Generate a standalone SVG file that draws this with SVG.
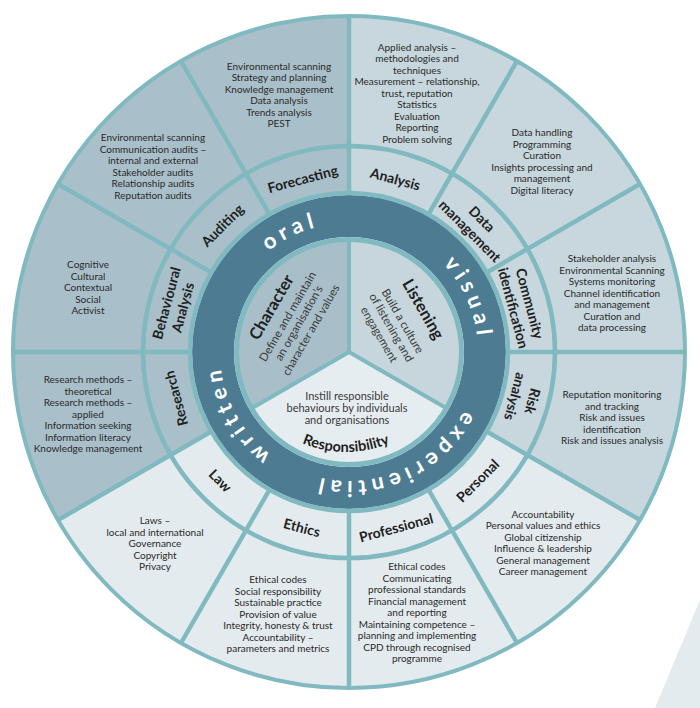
<svg xmlns="http://www.w3.org/2000/svg" xmlns:xlink="http://www.w3.org/1999/xlink" width="700" height="708" viewBox="0 0 700 708">
<defs>
<style>
.sa{fill:#a9bfc9}.sb{fill:#c7d7dd}.sc{fill:#e4ebee}
.ln{fill:none;stroke:#80b9c0;stroke-width:4.5}
.lbl{font-family:Lato,"Liberation Sans",sans-serif;font-weight:700;font-size:14px;fill:#1f1f1f;text-anchor:middle}
.d{font-family:Lato,"Liberation Sans",sans-serif;font-size:10px;fill:#2a2a2a;text-anchor:middle}
.ring{font-family:Lato,"Liberation Sans",sans-serif;font-weight:700;font-size:22px;fill:#ffffff;letter-spacing:5px;text-anchor:middle}
.ttl{font-family:Lato,"Liberation Sans",sans-serif;font-weight:700;font-size:16.5px;fill:#1f1f1f;text-anchor:middle}
.ds{font-family:Lato,"Liberation Sans",sans-serif;font-size:11.5px;fill:#3a3a3a;text-anchor:middle}
</style>
<path id="ringPath" d="M 349,223 A 129 129 0 1 1 349,481 A 129 129 0 1 1 349,223"/>
<path id="respPath" d="M 264.7,418.3 A 115 115 0 0 0 427.3,418.3"/>
</defs>
<polygon points="700,600 655,708 700,708" fill="#e4ebee"/>

<g id="analysis">
<path class="sb" d="M 349,146 A 206 206 0 0 1 452,173.6 L 427.5,216 A 157 157 0 0 0 349,195 Z"/>
<g transform="translate(349,352) rotate(15)"><text class="lbl" x="0" y="-174">Analysis</text></g>
</g>
<g id="analysis-topics">
<path class="sb" d="M 349,16 A 336 336 0 0 1 517,61 L 452,173.6 A 206 206 0 0 0 349,146 Z"/>
<text class="d"><tspan x="417" y="50.5">Applied analysis –</tspan><tspan x="417" dy="11.5">methodologies and</tspan><tspan x="417" dy="11.5">techniques</tspan><tspan x="417" dy="11.5">Measurement – relationship,</tspan><tspan x="417" dy="11.5">trust, reputation</tspan><tspan x="417" dy="11.5">Statistics</tspan><tspan x="417" dy="11.5">Evaluation</tspan><tspan x="417" dy="11.5">Reporting</tspan><tspan x="417" dy="11.5">Problem solving</tspan></text>
</g>

<g id="data-management">
<path class="sb" d="M 452,173.6 A 206 206 0 0 1 527.4,249 L 485,273.5 A 157 157 0 0 0 427.5,216 Z"/>
<g transform="translate(349,352) rotate(45)"><text class="lbl"><tspan x="0" y="-183">Data</tspan><tspan x="0" y="-166">management</tspan></text></g>
</g>
<g id="data-management-topics">
<path class="sb" d="M 517,61 A 336 336 0 0 1 640,184 L 527.4,249 A 206 206 0 0 0 452,173.6 Z"/>
<text class="d"><tspan x="542" y="136">Data handling</tspan><tspan x="542" dy="11.5">Programming</tspan><tspan x="542" dy="11.5">Curation</tspan><tspan x="542" dy="11.5">Insights processing and</tspan><tspan x="542" dy="11.5">management</tspan><tspan x="542" dy="11.5">Digital literacy</tspan></text>
</g>

<g id="community-identification">
<path class="sb" d="M 527.4,249 A 206 206 0 0 1 555,352 L 506,352 A 157 157 0 0 0 485,273.5 Z"/>
<g transform="translate(349,352) rotate(75)"><text class="lbl"><tspan x="0" y="-182">Community</tspan><tspan x="0" y="-165">identification</tspan></text></g>
</g>
<g id="community-identification-topics">
<path class="sb" d="M 640,184 A 336 336 0 0 1 685,352 L 555,352 A 206 206 0 0 0 527.4,249 Z"/>
<text class="d"><tspan x="612" y="262">Stakeholder analysis</tspan><tspan x="612" dy="11.5">Environmental Scanning</tspan><tspan x="612" dy="11.5">Systems monitoring</tspan><tspan x="612" dy="11.5">Channel identification</tspan><tspan x="612" dy="11.5">and management</tspan><tspan x="612" dy="11.5">Curation and</tspan><tspan x="612" dy="11.5">data processing</tspan></text>
</g>

<g id="risk-analysis">
<path class="sb" d="M 555,352 A 206 206 0 0 1 527.4,455 L 485,430.5 A 157 157 0 0 0 506,352 Z"/>
<g transform="translate(349,352) rotate(105)"><text class="lbl"><tspan x="0" y="-185">Risk</tspan><tspan x="0" y="-167">analysis</tspan></text></g>
</g>
<g id="risk-analysis-topics">
<path class="sb" d="M 685,352 A 336 336 0 0 1 640,520 L 527.4,455 A 206 206 0 0 0 555,352 Z"/>
<text class="d"><tspan x="612" y="398">Reputation monitoring</tspan><tspan x="612" dy="11.5">and tracking</tspan><tspan x="612" dy="11.5">Risk and issues</tspan><tspan x="612" dy="11.5">identification</tspan><tspan x="612" dy="11.5">Risk and issues analysis</tspan></text>
</g>

<g id="personal">
<path class="sc" d="M 527.4,455 A 206 206 0 0 1 452,530.4 L 427.5,488 A 157 157 0 0 0 485,430.5 Z"/>
<g transform="translate(349,352) rotate(-45)"><text class="lbl" x="0" y="187">Personal</text></g>
</g>
<g id="personal-topics">
<path class="sc" d="M 640,520 A 336 336 0 0 1 517,643 L 452,530.4 A 206 206 0 0 0 527.4,455 Z"/>
<text class="d"><tspan x="543" y="517.5">Accountability</tspan><tspan x="543" dy="11.5">Personal values and ethics</tspan><tspan x="543" dy="11.5">Global citizenship</tspan><tspan x="543" dy="11.5">Influence &amp; leadership</tspan><tspan x="543" dy="11.5">General management</tspan><tspan x="543" dy="11.5">Career management</tspan></text>
</g>

<g id="professional">
<path class="sc" d="M 452,530.4 A 206 206 0 0 1 349,558 L 349,509 A 157 157 0 0 0 427.5,488 Z"/>
<g transform="translate(349,352) rotate(-15)"><text class="lbl" x="0" y="187">Professional</text></g>
</g>
<g id="professional-topics">
<path class="sc" d="M 517,643 A 336 336 0 0 1 349,688 L 349,558 A 206 206 0 0 0 452,530.4 Z"/>
<text class="d"><tspan x="417" y="570">Ethical codes</tspan><tspan x="417" dy="11.5">Communicating</tspan><tspan x="417" dy="11.5">professional standards</tspan><tspan x="417" dy="11.5">Financial management</tspan><tspan x="417" dy="11.5">and reporting</tspan><tspan x="417" dy="11.5">Maintaining competence –</tspan><tspan x="417" dy="11.5">planning and implementing</tspan><tspan x="417" dy="11.5">CPD through recognised</tspan><tspan x="417" dy="11.5">programme</tspan></text>
</g>

<g id="ethics">
<path class="sc" d="M 349,558 A 206 206 0 0 1 246,530.4 L 270.5,488 A 157 157 0 0 0 349,509 Z"/>
<g transform="translate(349,352) rotate(15)"><text class="lbl" x="0" y="187">Ethics</text></g>
</g>
<g id="ethics-topics">
<path class="sc" d="M 349,688 A 336 336 0 0 1 181,643 L 246,530.4 A 206 206 0 0 0 349,558 Z"/>
<text class="d"><tspan x="278" y="583">Ethical codes</tspan><tspan x="278" dy="11.5">Social responsibility</tspan><tspan x="278" dy="11.5">Sustainable practice</tspan><tspan x="278" dy="11.5">Provision of value</tspan><tspan x="278" dy="11.5">Integrity, honesty &amp; trust</tspan><tspan x="278" dy="11.5">Accountability –</tspan><tspan x="278" dy="11.5">parameters and metrics</tspan></text>
</g>

<g id="law">
<path class="sc" d="M 246,530.4 A 206 206 0 0 1 170.6,455 L 213,430.5 A 157 157 0 0 0 270.5,488 Z"/>
<g transform="translate(349,352) rotate(45)"><text class="lbl" x="0" y="187">Law</text></g>
</g>
<g id="law-topics">
<path class="sc" d="M 181,643 A 336 336 0 0 1 58,520 L 170.6,455 A 206 206 0 0 0 246,530.4 Z"/>
<text class="d"><tspan x="155" y="524">Laws –</tspan><tspan x="155" dy="11.5">local and international</tspan><tspan x="155" dy="11.5">Governance</tspan><tspan x="155" dy="11.5">Copyright</tspan><tspan x="155" dy="11.5">Privacy</tspan></text>
</g>

<g id="research">
<path class="sa" d="M 170.6,455 A 206 206 0 0 1 143,352 L 192,352 A 157 157 0 0 0 213,430.5 Z"/>
<g transform="translate(349,352) rotate(-105)"><text class="lbl" x="0" y="-174">Research</text></g>
</g>
<g id="research-topics">
<path class="sa" d="M 58,520 A 336 336 0 0 1 13,352 L 143,352 A 206 206 0 0 0 170.6,455 Z"/>
<text class="d"><tspan x="88" y="383">Research methods –</tspan><tspan x="88" dy="11.5">theoretical</tspan><tspan x="88" dy="11.5">Research methods –</tspan><tspan x="88" dy="11.5">applied</tspan><tspan x="88" dy="11.5">Information seeking</tspan><tspan x="88" dy="11.5">Information literacy</tspan><tspan x="88" dy="11.5">Knowledge management</tspan></text>
</g>

<g id="behavioural-analysis">
<path class="sa" d="M 143,352 A 206 206 0 0 1 170.6,249 L 213,273.5 A 157 157 0 0 0 192,352 Z"/>
<g transform="translate(349,352) rotate(-75)"><text class="lbl"><tspan x="0" y="-184">Behavioural</tspan><tspan x="0" y="-167">Analysis</tspan></text></g>
</g>
<g id="behavioural-analysis-topics">
<path class="sa" d="M 13,352 A 336 336 0 0 1 58,184 L 170.6,249 A 206 206 0 0 0 143,352 Z"/>
<text class="d"><tspan x="88" y="268">Cognitive</tspan><tspan x="88" dy="11.5">Cultural</tspan><tspan x="88" dy="11.5">Contextual</tspan><tspan x="88" dy="11.5">Social</tspan><tspan x="88" dy="11.5">Activist</tspan></text>
</g>

<g id="auditing">
<path class="sa" d="M 170.6,249 A 206 206 0 0 1 246,173.6 L 270.5,216 A 157 157 0 0 0 213,273.5 Z"/>
<g transform="translate(349,352) rotate(-45)"><text class="lbl" x="0" y="-174">Auditing</text></g>
</g>
<g id="auditing-topics">
<path class="sa" d="M 58,184 A 336 336 0 0 1 181,61 L 246,173.6 A 206 206 0 0 0 170.6,249 Z"/>
<text class="d"><tspan x="153" y="141">Environmental scanning</tspan><tspan x="153" dy="11.5">Communication audits –</tspan><tspan x="153" dy="11.5">internal and external</tspan><tspan x="153" dy="11.5">Stakeholder audits</tspan><tspan x="153" dy="11.5">Relationship audits</tspan><tspan x="153" dy="11.5">Reputation audits</tspan></text>
</g>

<g id="forecasting">
<path class="sa" d="M 246,173.6 A 206 206 0 0 1 349,146 L 349,195 A 157 157 0 0 0 270.5,216 Z"/>
<g transform="translate(349,352) rotate(-15)"><text class="lbl" x="0" y="-174">Forecasting</text></g>
</g>
<g id="forecasting-topics">
<path class="sa" d="M 181,61 A 336 336 0 0 1 349,16 L 349,146 A 206 206 0 0 0 246,173.6 Z"/>
<text class="d"><tspan x="279" y="69.5">Environmental scanning</tspan><tspan x="279" dy="11.5">Strategy and planning</tspan><tspan x="279" dy="11.5">Knowledge management</tspan><tspan x="279" dy="11.5">Data analysis</tspan><tspan x="279" dy="11.5">Trends analysis</tspan><tspan x="279" dy="11.5">PEST</tspan></text>
</g>

<g id="connectors">
<path class="ln" d="M 349,202 L 349,16 M 424,222.1 L 517,61 M 478.9,277 L 640,184 M 499,352 L 685,352 M 478.9,427 L 640,520 M 424,481.9 L 517,643 M 349,502 L 349,688 M 274,481.9 L 181,643 M 219.1,427 L 58,520 M 199,352 L 13,352 M 219.1,277 L 58,184 M 274,222.1 L 181,61"/>
<circle class="ln" cx="349" cy="352" r="206"/>
<circle class="ln" cx="349" cy="352" r="336" style="stroke-width:4"/>
</g>

<g id="ring">
<circle cx="349" cy="352" r="136" fill="none" stroke="#4d7c92" stroke-width="42"/>
<circle class="ln" cx="349" cy="352" r="159"/>
</g>
<g id="ring-oral"><text class="ring"><textPath xlink:href="#ringPath" href="#ringPath" startOffset="92.8%">oral</textPath></text></g>
<g id="ring-visual"><text class="ring"><textPath xlink:href="#ringPath" href="#ringPath" startOffset="18.3%">visual</textPath></text></g>
<g id="ring-experiential"><text class="ring"><textPath xlink:href="#ringPath" href="#ringPath" startOffset="43.3%">experiential</textPath></text></g>
<g id="ring-written"><text class="ring"><textPath xlink:href="#ringPath" href="#ringPath" startOffset="66.9%">written</textPath></text></g>

<g id="character">
<path fill="#a8bfc9" d="M 349,352 L 251.1,408.5 A 113 113 0 0 1 349,239 Z"/>
<g transform="translate(349,352) rotate(-60)"><text class="ttl" x="0" y="-84">Character</text><text class="ds"><tspan x="0" y="-67">Define and maintain</tspan><tspan x="0" y="-54">an organisation’s</tspan><tspan x="0" y="-40">character and values</tspan></text></g>
</g>
<g id="listening">
<path fill="#c6d6dc" d="M 349,352 L 349,239 A 113 113 0 0 1 446.9,408.5 Z"/>
<g transform="translate(349,352) rotate(60)"><text class="ttl" x="0" y="-80">Listening</text><text class="ds"><tspan x="0" y="-58">Build a culture</tspan><tspan x="0" y="-45">of listening and</tspan><tspan x="0" y="-31">engagement</tspan></text></g>
</g>
<g id="responsibility">
<path fill="#e6edf0" d="M 349,352 L 446.9,408.5 A 113 113 0 0 1 251.1,408.5 Z"/>
<text class="ds" style="font-size:11px"><tspan x="347" y="400">Instill responsible</tspan><tspan x="347" y="412">behaviours by individuals</tspan><tspan x="347" y="424">and organisations</tspan></text>
<text class="ttl" style="font-size:14.5px"><textPath xlink:href="#respPath" href="#respPath" startOffset="50%">Responsibility</textPath></text>
</g>
<g id="inner-dividers">
<circle class="ln" cx="349" cy="352" r="112.5" style="stroke-width:5"/>
<path class="ln" d="M 349,352 L 349,239 M 349,352 L 446.9,408.5 M 349,352 L 251.1,408.5" style="stroke-width:4"/>
</g>
</svg>
